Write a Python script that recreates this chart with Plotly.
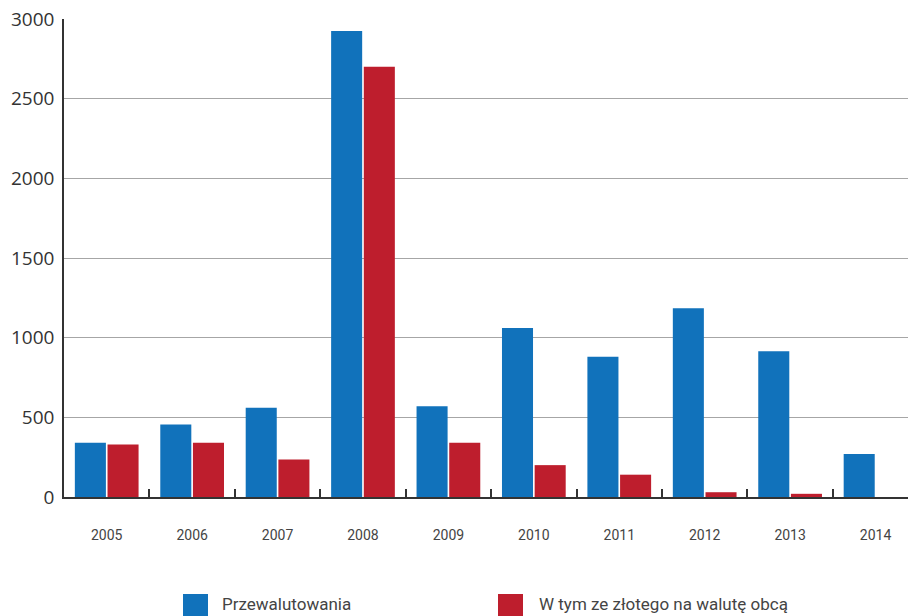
import plotly.graph_objects as go

years = ["2005", "2006", "2007", "2008", "2009", "2010", "2011", "2012", "2013", "2014"]
przewalutowania = [340, 455, 560, 2925, 570, 1060, 880, 1185, 915, 270]
ze_zlotego = [330, 340, 235, 2700, 340, 200, 140, 30, 20, 0]

series_names = ["Przewalutowania", "W tym ze złotego na walutę obcą"]
colors = ["#1172bb", "#be1e2d"]

fig = go.Figure()
fig.add_trace(go.Bar(x=years, y=przewalutowania, name=series_names[0],
                     marker=dict(color=colors[0], line=dict(width=0))))
fig.add_trace(go.Bar(x=years, y=ze_zlotego, name=series_names[1],
                     marker=dict(color=colors[1], line=dict(width=0))))

W, H = 908, 616
ml, mr, mt, mb = 64, 0, 19, 119
pw, ph = W - ml - mr, H - mt - mb

def px_x(x):
    return (x - ml) / pw

def px_y(y):
    return (H - mb - y) / ph

# custom legend: large squares with labels below the chart
legend_items = [(183, 220), (498, 537)]
for (sx, tx), name, col in zip(legend_items, series_names, colors):
    fig.add_shape(type="rect", xref="paper", yref="paper",
                  x0=px_x(sx), x1=px_x(sx + 25), y0=px_y(619), y1=px_y(594),
                  fillcolor=col, line=dict(width=0))
    fig.add_annotation(xref="paper", yref="paper", x=px_x(tx), y=px_y(604),
                       text=name, showarrow=False, xanchor="left", yanchor="middle",
                       font=dict(family="Roboto, sans-serif", size=17, color="#444444"))

fig.update_layout(
    width=W, height=H,
    margin=dict(l=ml, r=mr, t=mt, b=mb),
    paper_bgcolor="white", plot_bgcolor="white",
    barmode="group", bargap=0.235, bargroupgap=0.05,
    showlegend=False,
    xaxis=dict(
        type="category",
        range=[-0.5, 9.38],
        tickson="boundaries", ticks="inside", ticklen=8, tickwidth=1.5,
        tickcolor="#333333",
        showline=True, linecolor="#333333", linewidth=2,
        showgrid=False,
        tickfont=dict(family="Roboto, sans-serif", size=14, color="#444444"),
        ticklabelstandoff=24,
    ),
    yaxis=dict(
        range=[0, 3000], tickvals=[0, 500, 1000, 1500, 2000, 2500, 3000],
        showgrid=True, gridcolor="#a6a6a6", gridwidth=1,
        showline=True, linecolor="#333333", linewidth=1.5,
        zeroline=False, ticks="",
        tickfont=dict(family="Open Sans, sans-serif", size=19, color="#333333"),
        ticklabelstandoff=4,
    ),
)

fig.write_html("out.html")
